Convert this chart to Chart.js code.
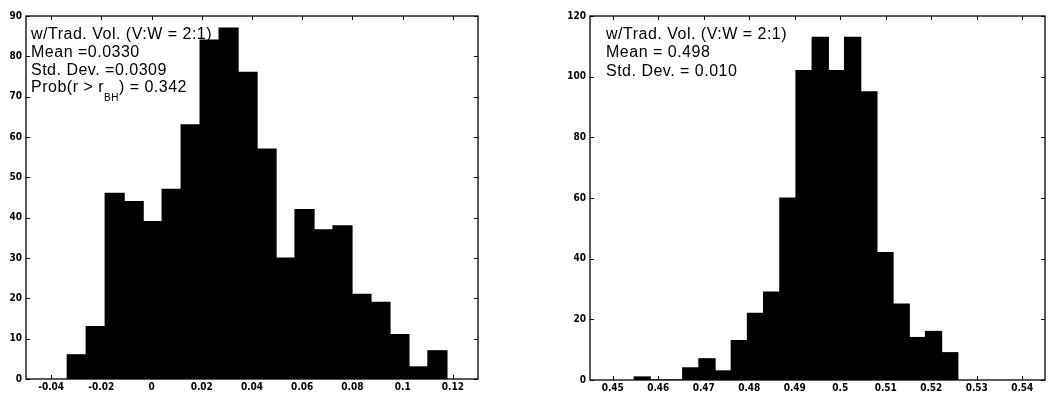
<!DOCTYPE html>
<html>
<head>
<meta charset="utf-8">
<script src="https://cdn.jsdelivr.net/npm/chart.js@4.4.0/dist/chart.umd.min.js"></script>
<style>
  html, body { margin: 0; padding: 0; background: #fff; }
  body { width: 1055px; height: 397px; position: relative; overflow: hidden; }
  canvas { position: absolute; top: 0; }
  #corrChart { left: 0; }
  #ratioChart { left: 540px; }
</style>
</head>
<body>
<canvas id="corrChart" width="500" height="397"></canvas>
<canvas id="ratioChart" width="515" height="397"></canvas>
<script>
// left panel: distribution of r
const corrBins = [-0.0298, -0.02224, -0.01468, -0.00712, 0.00044, 0.008, 0.01556, 0.02312, 0.03068, 0.03824,
                  0.0458, 0.05336, 0.06092, 0.06848, 0.07604, 0.0836, 0.09116, 0.09872, 0.10628, 0.11384];
const corrCounts = [6, 13, 46, 44, 39, 47, 63, 84, 87, 76, 57, 30, 42, 37, 38, 21, 19, 11, 3, 7];
const corrXTicks = [-0.04, -0.02, 0, 0.02, 0.04, 0.06, 0.08, 0.1, 0.12];
const corrYTicks = [0, 10, 20, 30, 40, 50, 60, 70, 80, 90];

// right panel: distribution of the volume ratio
const ratioBins = [0.45648, 0.46004, 0.46359, 0.46715, 0.47071, 0.47426, 0.47782, 0.48138, 0.48493, 0.48849,
                   0.49205, 0.49561, 0.49916, 0.50272, 0.50628, 0.50983, 0.51339, 0.51695, 0.5205, 0.52406];
const ratioCounts = [1, 0, 0, 4, 7, 3, 13, 22, 29, 60, 102, 113, 102, 113, 95, 42, 25, 14, 16, 9];
const ratioXTicks = [0.45, 0.46, 0.47, 0.48, 0.49, 0.5, 0.51, 0.52, 0.53, 0.54];
const ratioYTicks = [0, 20, 40, 60, 80, 100, 120];

const corrNotes = [
  [{ t: 'w/Trad. Vol. (V:W = 2:1)' }],
  [{ t: 'Mean =0.0330' }],
  [{ t: 'Std. Dev. =0.0309' }],
  [{ t: 'Prob(r > r' }, { t: 'BH', sub: true }, { t: ') = 0.342' }]
];
const ratioNotes = [
  [{ t: 'w/Trad. Vol. (V:W = 2:1)' }],
  [{ t: 'Mean = 0.498' }],
  [{ t: 'Std. Dev. = 0.010' }]
];

const tickFont = { family: '"Liberation Sans Narrow", "DejaVu Sans Condensed", Arial, sans-serif', size: 10, weight: 'bold' };

// box around the plot with inward ticks on all four sides, then the text block
const boxPlugin = {
  id: 'box',
  afterDatasetsDraw(chart) {
    const { ctx, chartArea: a, scales } = chart;
    ctx.save();
    ctx.strokeStyle = '#000';
    ctx.lineWidth = 1.3;
    ctx.strokeRect(a.left, a.top, a.right - a.left, a.bottom - a.top);
    ctx.lineWidth = 1;
    ctx.beginPath();
    scales.x.ticks.forEach(t => {
      const px = Math.round(scales.x.getPixelForValue(t.value)) + 0.5;
      ctx.moveTo(px, a.bottom); ctx.lineTo(px, a.bottom - 4);
      ctx.moveTo(px, a.top); ctx.lineTo(px, a.top + 4);
    });
    scales.y.ticks.forEach(t => {
      const py = Math.round(scales.y.getPixelForValue(t.value)) + 0.5;
      ctx.moveTo(a.left, py); ctx.lineTo(a.left + 4, py);
      ctx.moveTo(a.right, py); ctx.lineTo(a.right - 4, py);
    });
    ctx.stroke();
    ctx.restore();
  },
  afterDraw(chart, args, opts) {
    const { ctx, chartArea: a } = chart;
    ctx.save();
    ctx.fillStyle = '#000';
    ctx.textBaseline = 'alphabetic';
    ctx.letterSpacing = opts.spacing + 'px';
    opts.lines.forEach((parts, i) => {
      let x = a.left + opts.dx;
      const y = a.top + opts.dy + i * opts.lineGap;
      parts.forEach(p => {
        ctx.font = (p.sub ? 10 : 16) + 'px "Liberation Sans", Arial, sans-serif';
        const yy = p.sub ? y + 9 : y;
        ctx.fillText(p.t, x, yy);
        x += ctx.measureText(p.t).width;
      });
    });
    ctx.restore();
  }
};

function makeHist(id, bins, counts, xTicks, yTicks, cfg) {
  return new Chart(document.getElementById(id), {
    type: 'bar',
    data: {
      datasets: [{
        data: bins.map((b, i) => ({ x: b, y: counts[i] })),
        backgroundColor: '#000',
        borderWidth: 0,
        inflateAmount: 0.6,
        barPercentage: 1,
        categoryPercentage: 1
      }]
    },
    options: {
      responsive: false,
      animation: false,
      layout: { padding: { top: cfg.top, right: cfg.right, left: 0, bottom: 0 } },
      plugins: {
        legend: { display: false },
        tooltip: { enabled: false },
        box: { lines: cfg.notes, dx: cfg.dx, dy: cfg.dy, lineGap: cfg.lineGap, spacing: cfg.spacing }
      },
      scales: {
        x: {
          type: 'linear',
          min: xTicks[0],
          max: xTicks[xTicks.length - 1],
          grid: { display: false, drawTicks: false },
          border: { display: false },
          ticks: {
            autoSkip: false, maxRotation: 0, padding: 2, color: '#000', font: tickFont,
            callback: v => String(Number(v.toFixed(2)))
          },
          afterBuildTicks: s => { s.ticks = xTicks.map(v => ({ value: v })); },
          afterFit: s => { s.height = cfg.xHeight; s.paddingLeft = 0; s.paddingRight = 0; }
        },
        y: {
          min: yTicks[0],
          max: yTicks[yTicks.length - 1],
          grid: { display: false, drawTicks: false },
          border: { display: false },
          ticks: { padding: 4, color: '#000', font: tickFont },
          afterBuildTicks: s => { s.ticks = yTicks.map(v => ({ value: v })); },
          afterFit: s => { s.width = cfg.yWidth; s.paddingTop = 0; s.paddingBottom = 0; }
        }
      }
    },
    plugins: [boxPlugin]
  });
}

window.onload = () => {
  makeHist('corrChart', corrBins, corrCounts, corrXTicks, corrYTicks, {
    top: 16, right: 22, xHeight: 18, yWidth: 26,
    notes: corrNotes, dx: 5, dy: 23, lineGap: 17.8, spacing: 0.5
  });
  makeHist('ratioChart', ratioBins, ratioCounts, ratioXTicks, ratioYTicks, {
    top: 16, right: 10, xHeight: 17, yWidth: 50,
    notes: ratioNotes, dx: 16, dy: 22.5, lineGap: 18.5, spacing: 0.5
  });
};
</script>
</body>
</html>
